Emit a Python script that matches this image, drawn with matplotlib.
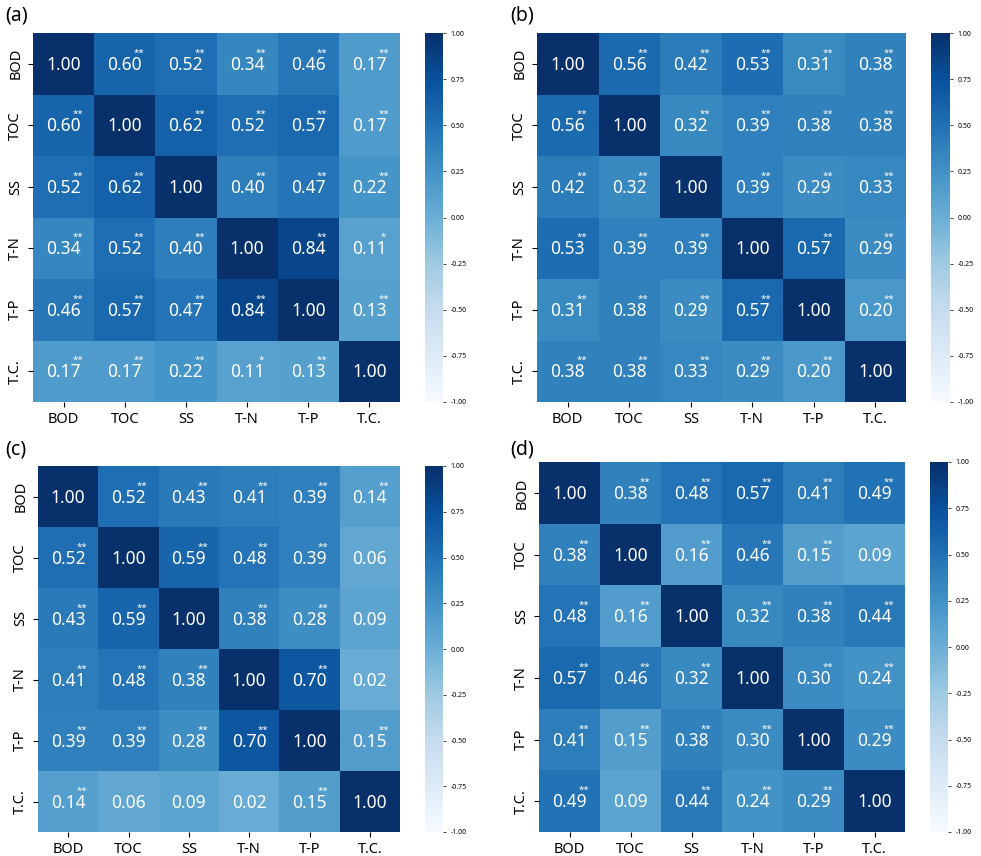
import numpy as np
import matplotlib
matplotlib.use("Agg")
from matplotlib import pyplot as plt

plt.rcParams['font.family'] = ['Noto Sans', 'DejaVu Sans']
plt.rcParams['axes.unicode_minus'] = False

labels = ['BOD', 'TOC', 'SS', 'T-N', 'T-P', 'T.C.']

# correlation matrices
corr_a = [[1.00, 0.60, 0.52, 0.34, 0.46, 0.17],
          [0.60, 1.00, 0.62, 0.52, 0.57, 0.17],
          [0.52, 0.62, 1.00, 0.40, 0.47, 0.22],
          [0.34, 0.52, 0.40, 1.00, 0.84, 0.11],
          [0.46, 0.57, 0.47, 0.84, 1.00, 0.13],
          [0.17, 0.17, 0.22, 0.11, 0.13, 1.00]]
corr_b = [[1.00, 0.56, 0.42, 0.53, 0.31, 0.38],
          [0.56, 1.00, 0.32, 0.39, 0.38, 0.38],
          [0.42, 0.32, 1.00, 0.39, 0.29, 0.33],
          [0.53, 0.39, 0.39, 1.00, 0.57, 0.29],
          [0.31, 0.38, 0.29, 0.57, 1.00, 0.20],
          [0.38, 0.38, 0.33, 0.29, 0.20, 1.00]]
corr_c = [[1.00, 0.52, 0.43, 0.41, 0.39, 0.14],
          [0.52, 1.00, 0.59, 0.48, 0.39, 0.06],
          [0.43, 0.59, 1.00, 0.38, 0.28, 0.09],
          [0.41, 0.48, 0.38, 1.00, 0.70, 0.02],
          [0.39, 0.39, 0.28, 0.70, 1.00, 0.15],
          [0.14, 0.06, 0.09, 0.02, 0.15, 1.00]]
corr_d = [[1.00, 0.38, 0.48, 0.57, 0.41, 0.49],
          [0.38, 1.00, 0.16, 0.46, 0.15, 0.09],
          [0.48, 0.16, 1.00, 0.32, 0.38, 0.44],
          [0.57, 0.46, 0.32, 1.00, 0.30, 0.24],
          [0.41, 0.15, 0.38, 0.30, 1.00, 0.29],
          [0.49, 0.09, 0.44, 0.24, 0.29, 1.00]]

# significance level: number of stars per cell
sig_a = [[0, 2, 2, 2, 2, 2],
         [2, 0, 2, 2, 2, 2],
         [2, 2, 0, 2, 2, 2],
         [2, 2, 2, 0, 2, 1],
         [2, 2, 2, 2, 0, 2],
         [2, 2, 2, 1, 2, 0]]
sig_b = [[0, 2, 2, 2, 2, 2],
         [2, 0, 2, 2, 2, 2],
         [2, 2, 0, 2, 2, 2],
         [2, 2, 2, 0, 2, 2],
         [2, 2, 2, 2, 0, 2],
         [2, 2, 2, 2, 2, 0]]
sig_c = [[0, 2, 2, 2, 2, 2],
         [2, 0, 2, 2, 2, 0],
         [2, 2, 0, 2, 2, 0],
         [2, 2, 2, 0, 2, 0],
         [2, 2, 2, 2, 0, 2],
         [2, 0, 0, 0, 2, 0]]
sig_d = [[0, 2, 2, 2, 2, 2],
         [2, 0, 2, 2, 2, 0],
         [2, 2, 0, 2, 2, 2],
         [2, 2, 2, 0, 2, 2],
         [2, 2, 2, 2, 0, 2],
         [2, 0, 2, 2, 2, 0]]

panels = ['(a)', '(b)', '(c)', '(d)']
W, H = 981, 856

# pixel boxes: heatmap (x0, y0, x1, y1), colorbar (x0, x1)
boxes = [((33, 33, 400, 402), (425, 443)),
         ((537, 33, 906, 402), (931, 950)),
         ((38, 466, 400, 832), (425, 443)),
         ((539, 462, 905, 832), (930, 948))]
label_pos = [(5, 16), (510, 16), (5, 450), (510, 450)]

fig = plt.figure(figsize=(W/100, H/100), dpi=100)

def px_rect(x0, y0, x1, y1):
    return [x0/W, 1-y1/H, (x1-x0)/W, (y1-y0)/H]

for corr, sig, name, (hb, cb), lp in zip([corr_a, corr_b, corr_c, corr_d],
                                        [sig_a, sig_b, sig_c, sig_d],
                                        panels, boxes, label_pos):
    data = np.array(corr)
    ax = fig.add_axes(px_rect(*hb))
    mesh = ax.pcolormesh(data, cmap='Blues', vmin=-1, vmax=1)
    ax.set_xlim(0, 6)
    ax.set_ylim(6, 0)
    ax.set_xticks(np.arange(6)+0.5)
    ax.set_yticks(np.arange(6)+0.5)
    ax.set_xticklabels(labels, fontsize=10.5)
    ax.set_yticklabels(labels, fontsize=10.5, rotation=90, va='center')
    for s in ax.spines.values():
        s.set_visible(False)
    for i in range(6):
        for j in range(6):
            ax.text(j+0.5, i+0.52, '%.2f' % data[i, j], ha='center', va='center',
                    color='white', fontsize=12.5)
            if sig[i][j]:
                ax.text(j+0.73, i+0.33, '*'*sig[i][j], ha='center', va='center',
                        color='white', fontsize=7)
    cax = fig.add_axes(px_rect(cb[0], hb[1], cb[1], hb[3]))
    cbar = fig.colorbar(mesh, cax=cax, ticks=np.linspace(-1, 1, 9))
    cbar.outline.set_visible(False)
    cbar.ax.set_yticklabels(['%.2f' % t for t in np.linspace(-1, 1, 9)])
    cbar.ax.tick_params(labelsize=5, length=2, width=0.5)
    fig.text(lp[0]/W, 1-lp[1]/H, name, fontsize=14, va='center', ha='left')

fig.savefig('out.png', dpi=100)
